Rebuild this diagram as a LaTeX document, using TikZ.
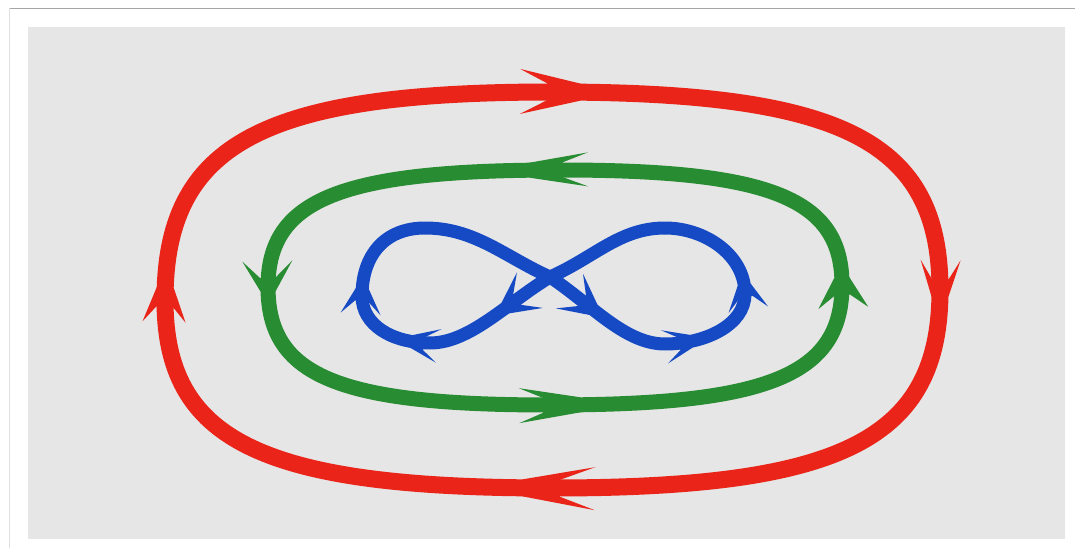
\documentclass[tikz,border=0pt]{standalone}
\usetikzlibrary{decorations.markings}
\definecolor{paper}{RGB}{230,230,230}
\definecolor{tapered}{RGB}{234,36,24}
\definecolor{tapegreen}{RGB}{40,140,50}
\definecolor{tapeblue}{RGB}{22,74,196}

% barbed head sitting on the strip: colour, half strip width, length, width, inset
% (front of the head at the origin, pointing along +x)
\newcommand\barbhead[5]{%
  \fill[#1] (0.5,#2) -- (-#3,0.5*#4) -- (-#5,#2) -- (-#5,-#2)
    -- (-#3,-0.5*#4) -- (0.5,-#2) -- cycle;}

\tikzset{
  redloop/.style={draw=tapered, line width=17},
  greenloop/.style={draw=tapegreen, line width=15},
  blueloop/.style={draw=tapeblue, line width=13},
  redbarb/.style args={#1/#2/#3/#4}{postaction={decorate,decoration={markings,
      mark=at position #1 with {\barbhead{tapered}{8.5}{#2}{#3}{#4}}}}},
  greenbarb/.style args={#1/#2/#3/#4}{postaction={decorate,decoration={markings,
      mark=at position #1 with {\barbhead{tapegreen}{7.5}{#2}{#3}{#4}}}}},
  bluebarb/.style args={#1/#2/#3/#4}{postaction={decorate,decoration={markings,
      mark=at position #1 with {\barbhead{tapeblue}{6.5}{#2}{#3}{#4}}}}},
}

\begin{document}
\begin{tikzpicture}[x=1pt,y=-1pt,line cap=butt]
\useasboundingbox (0,0) rectangle (1075,553);
% mount and paper
\fill[white] (0,0) rectangle (1075,553);
\draw[black!35, line width=1.6] (9,8.5) -- (1075,8.5);
\draw[black!12, line width=1.2] (9.5,8.5) -- (9.5,548);
\fill[paper] (28,27) rectangle (1065,539);

% red outer loop, clockwise
\coordinate (rT) at (552,92);
\coordinate (rR) at (940,290);
\coordinate (rB) at (552,488);
\coordinate (rL) at (165,300);
\draw[redloop, redbarb={28pt/60/45/33}] (rT) .. controls (843,92) and (940,141) .. (rR);
\draw[redloop, redbarb={6pt/36/40/17}] (rR) .. controls (940,439) and (843,488) .. (rB);
\draw[redloop, redbarb={29pt/72/43/37}] (rB) .. controls (262,488) and (165,441) .. (rL);
\draw[redloop, redbarb={12pt/34/43/19}] (rL) .. controls (165,144) and (262,92) .. (rT);

% green middle loop, anticlockwise
\coordinate (gT) at (560,170);
\coordinate (gL) at (268,287);
\coordinate (gB) at (550,405);
\coordinate (gR) at (842,285);
\draw[greenloop, greenbarb={30pt/58/34/33}] (gT) .. controls (341,170) and (268,199) .. (gL);
\draw[greenloop, greenbarb={4pt/30/50/13}] (gL) .. controls (268,376) and (338,405) .. (gB);
\draw[greenloop, greenbarb={30pt/61/35/37}] (gB) .. controls (769,405) and (842,375) .. (gR);
\draw[greenloop, greenbarb={7pt/30/50/17}] (gR) .. controls (842,199) and (772,170) .. (gT);

% blue figure of eight
\coordinate (bC) at (550,277);
\coordinate (bLB) at (430,343);
\coordinate (bLL) at (362,296);
\coordinate (bLT) at (425,228);
\coordinate (bRB) at (665,344);
\coordinate (bRR) at (745,294);
\coordinate (bRT) at (665,228);
\draw[blueloop, bluebarb={54pt/30/44/14}] (bC) .. controls (507,303) and (470,343) .. (bLB);
\draw[blueloop, bluebarb={18pt/27/34/12}] (bLB) .. controls (392,343) and (362,325) .. (bLL);
\draw[blueloop, bluebarb={7pt/25/40/12}] (bLL) .. controls (362,255) and (385,228) .. (bLT);
\draw[blueloop] (bLT) .. controls (475,228) and (505,257) .. (bC);
\draw[blueloop, bluebarb={54pt/30/44/14}] (bC) .. controls (592,305) and (625,344) .. (bRB);
\draw[blueloop, bluebarb={26pt/27/34/12}] (bRB) .. controls (705,344) and (745,325) .. (bRR);
\draw[blueloop, bluebarb={9pt/25/40/12}] (bRR) .. controls (745,255) and (705,228) .. (bRT);
\draw[blueloop] (bRT) .. controls (620,228) and (595,257) .. (bC);
\end{tikzpicture}
\end{document}
